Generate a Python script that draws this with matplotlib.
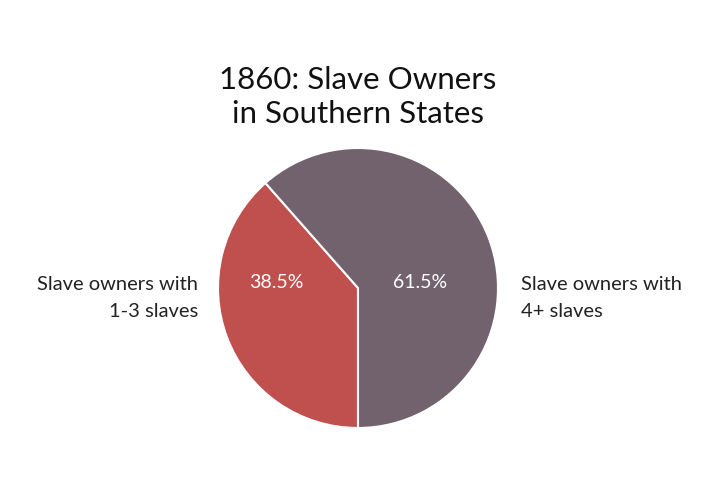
import matplotlib
matplotlib.use("Agg")
import matplotlib.pyplot as plt

plt.rcParams['font.family'] = ['Lato', 'DejaVu Sans']

categories = ["Slave owners with\n1-3 slaves", "Slave owners with\n4+ slaves"]
values = [38.5, 61.5]
colors = ["#C0504D", "#72626D"]
title = "1860: Slave Owners\nin Southern States"

W, H = 720, 478
fig = plt.figure(figsize=(W / 100, H / 100), dpi=100)
fig.patch.set_facecolor("white")

cx, cy, r = 358, 288, 140
ax = fig.add_axes([(cx - r) / W, (H - cy - r) / H, 2 * r / W, 2 * r / H])

wedges, texts, autotexts = ax.pie(
    values, colors=colors, startangle=270, counterclock=False,
    autopct="%.1f%%", radius=1.0,
    wedgeprops=dict(edgecolor="white", linewidth=1.5),
    textprops=dict(color="white", fontsize=14),
)
ax.set_xlim(-1, 1)
ax.set_ylim(-1, 1)
ax.set_aspect("equal")
ax.axis("off")

autotexts[0].set_position((-0.58, 0.04))
autotexts[1].set_position((0.44, 0.04))
for t in autotexts:
    t.set_va("center")
    t.set_ha("center")

# outside labels
fig.text(198 / W, 1 - 298 / H, categories[0], ha="right", va="center",
         fontsize=14.5, color="#222222", multialignment="right", linespacing=1.75)
fig.text(521 / W, 1 - 298 / H, categories[1], ha="left", va="center",
         fontsize=14.5, color="#222222", multialignment="left", linespacing=1.75)

fig.text(358 / W, 1 - 97 / H, title, ha="center", va="center",
         fontsize=22.5, color="#111111", linespacing=1.22)

fig.savefig("out.png", dpi=100, facecolor="white")
